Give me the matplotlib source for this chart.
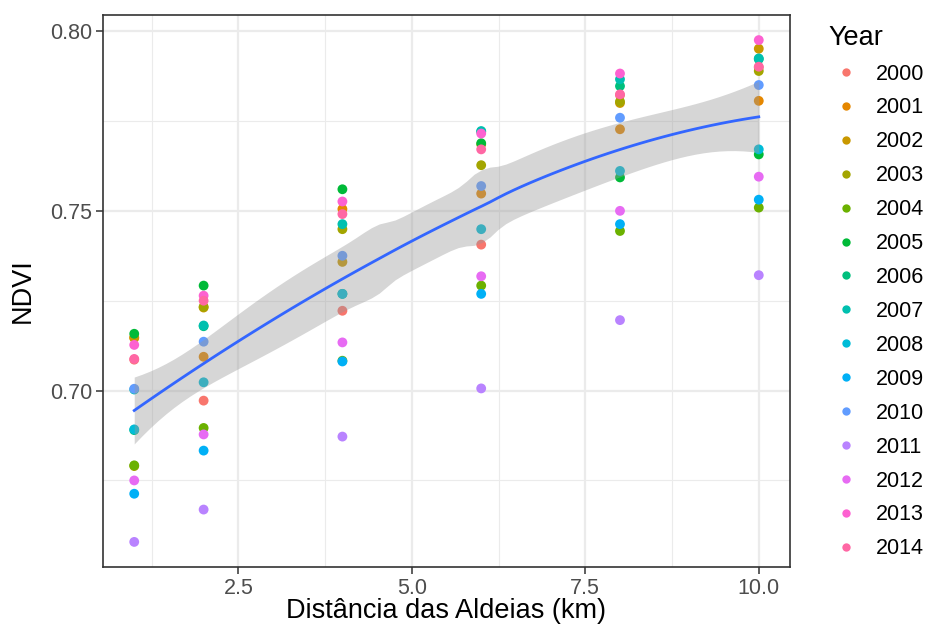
"""NDVI vs distance from villages, ggplot-like scatter with loess smooth."""

import matplotlib

matplotlib.use("Agg")

import matplotlib.pyplot as plt
import numpy as np
from matplotlib.lines import Line2D

YEARS = list(range(2000, 2015))
DISTANCES = [1, 2, 4, 6, 8, 10]

# NDVI by year (2000..2014) for each distance (km)
NDVI_1KM = [0.7086, 0.7148, 0.7146, 0.6790, 0.6792, 0.7158, 0.6890, 0.7003,
            0.6892, 0.6713, 0.7005, 0.6579, 0.6750, 0.7127, 0.7088]
NDVI_2KM = [0.6972, 0.7094, 0.7231, 0.7233, 0.6896, 0.7292, 0.7179, 0.7181,
            0.7023, 0.6833, 0.7136, 0.6669, 0.6878, 0.7264, 0.7250]
NDVI_4KM = [0.7222, 0.7505, 0.7358, 0.7449, 0.7083, 0.7560, 0.7269, 0.7463,
            0.7269, 0.7081, 0.7375, 0.6872, 0.7134, 0.7526, 0.7491]
NDVI_6KM = [0.7406, 0.7548, 0.7685, 0.7627, 0.7292, 0.7688, 0.7720, 0.7722,
            0.7449, 0.7269, 0.7569, 0.7006, 0.7318, 0.7715, 0.7671]
NDVI_8KM = [0.7822, 0.7727, 0.7800, 0.7804, 0.7444, 0.7593, 0.7847, 0.7866,
            0.7611, 0.7463, 0.7759, 0.7196, 0.7500, 0.7882, 0.7824]
NDVI_10KM = [0.7899, 0.7806, 0.7951, 0.7889, 0.7509, 0.7657, 0.7922, 0.7924,
             0.7671, 0.7531, 0.7850, 0.7321, 0.7595, 0.7975, 0.7901]

NDVI = np.array([NDVI_1KM, NDVI_2KM, NDVI_4KM, NDVI_6KM, NDVI_8KM, NDVI_10KM])

X_TICKS = [2.5, 5.0, 7.5, 10.0]
Y_TICKS = [0.70, 0.75, 0.80]

GRID = "#EBEBEB"
BORDER = "#333333"
TICK_TEXT = "#4D4D4D"
SMOOTH = "#3366FF"


def hue_pal(n, h=(15, 375), c=100, l=65):
    """Approximate ggplot2's hue_pal via HCL (CIE LCh uv) -> sRGB."""
    hues = np.linspace(h[0], h[1], n + 1)[:-1] % 360
    cols = []
    xn, yn, zn = 95.047, 100.0, 108.883
    un = 4 * xn / (xn + 15 * yn + 3 * zn)
    vn = 9 * yn / (xn + 15 * yn + 3 * zn)
    for hh in hues:
        u = c * np.cos(np.radians(hh))
        v = c * np.sin(np.radians(hh))
        Y = yn * ((l + 16) / 116) ** 3 if l > 8 else yn * l * (3 / 29) ** 3
        up = u / (13 * l) + un
        vp = v / (13 * l) + vn
        X = Y * 9 * up / (4 * vp)
        Z = Y * (12 - 3 * up - 20 * vp) / (4 * vp)
        X, Y, Z = X / 100, Y / 100, Z / 100
        r = 3.2406 * X - 1.5372 * Y - 0.4986 * Z
        g = -0.9689 * X + 1.8758 * Y + 0.0415 * Z
        b = 0.0557 * X - 0.2040 * Y + 1.0570 * Z
        rgb = []
        for ch in (r, g, b):
            ch = 12.92 * ch if ch <= 0.0031308 else 1.055 * ch ** (1 / 2.4) - 0.055
            rgb.append(min(max(ch, 0), 1))
        cols.append(tuple(rgb))
    return cols


def loess_fit(x, y, xs, span=0.75):
    """Local quadratic loess with tricube weights; returns fit and 95% band."""
    n = len(x)
    q = int(np.floor(n * span))

    def weights_row(x0):
        d = np.abs(x - x0)
        dq = np.sort(d)[q - 1]
        w = np.clip(1 - (d / dq) ** 3, 0, None) ** 3
        X = np.column_stack([np.ones(n), x - x0, (x - x0) ** 2])
        XtW = X.T * w
        return np.linalg.solve(XtW @ X, XtW)[0]

    L = np.array([weights_row(x0) for x0 in x])
    M = np.eye(n) - L
    R = M.T @ M
    delta1 = np.trace(R)
    delta2 = np.trace(R @ R)
    s = np.sqrt(np.sum((M @ y) ** 2) / delta1)
    df = delta1 ** 2 / delta2
    z = 1.959964
    t = z + (z ** 3 + z) / (4 * df) + (5 * z ** 5 + 16 * z ** 3 + 3 * z) / (96 * df ** 2)

    Ls = np.array([weights_row(x0) for x0 in xs])
    fit = Ls @ y
    se = s * np.sqrt(np.sum(Ls ** 2, axis=1))
    return fit, fit - t * se, fit + t * se


colors = hue_pal(len(YEARS))
x_all = np.repeat(DISTANCES, len(YEARS)).astype(float)
y_all = NDVI.ravel()

fig = plt.figure(figsize=(9.33, 6.25), dpi=100)
ax = fig.add_axes([103 / 933, 1 - 567 / 625, 687 / 933, 552 / 625])

for j, year in enumerate(YEARS):
    ax.scatter(DISTANCES, NDVI[:, j], s=50, color=colors[j], edgecolors="none", zorder=3)

xs = np.linspace(min(DISTANCES), max(DISTANCES), 80)
fit, lo, hi = loess_fit(x_all, y_all, xs)
ax.fill_between(xs, lo, hi, color="#999999", alpha=0.4, linewidth=0, zorder=4)
ax.plot(xs, fit, color=SMOOTH, linewidth=2.0, zorder=5)

xr = max(DISTANCES) - min(DISTANCES)
ax.set_xlim(min(DISTANCES) - 0.05 * xr, max(DISTANCES) + 0.05 * xr)
yr = y_all.max() - y_all.min()
ax.set_ylim(y_all.min() - 0.05 * yr, y_all.max() + 0.05 * yr)

ax.set_xticks(X_TICKS)
ax.set_xticklabels([f"{v:.1f}" for v in X_TICKS])
ax.set_yticks(Y_TICKS)
ax.set_yticklabels([f"{v:.2f}" for v in Y_TICKS])
ax.set_xticks([1.25, 3.75, 6.25, 8.75], minor=True)
ax.set_yticks([0.675, 0.725, 0.775], minor=True)
ax.grid(which="major", color=GRID, linewidth=1.6, zorder=0)
ax.grid(which="minor", color=GRID, linewidth=0.8, zorder=0)
ax.set_axisbelow(True)
ax.tick_params(which="major", length=5, width=1.1, color=BORDER, labelcolor=TICK_TEXT,
               labelsize=15.5, pad=3)
ax.tick_params(which="minor", length=0)
for sp in ax.spines.values():
    sp.set_color(BORDER)
    sp.set_linewidth(1.2)

ax.set_xlabel("Distância das Aldeias (km)", fontsize=19.5, color="black", labelpad=-1)
ax.set_ylabel("NDVI", fontsize=19.5, color="black", labelpad=10)

handles = [Line2D([], [], linestyle="none", marker="o", markersize=6, markeredgewidth=0,
                  color=colors[j]) for j in range(len(YEARS))]
leg = fig.legend(handles, [str(y) for y in YEARS], title="Year", loc="upper left",
                 bbox_to_anchor=(820 / 933, 1 - 16 / 625), frameon=False, fontsize=15.5,
                 title_fontsize=19.5, labelspacing=0.6, handletextpad=0.6,
                 handlelength=1.6, alignment="left", borderaxespad=0)

for text in [ax.xaxis.label, ax.yaxis.label] + ax.get_xticklabels() + ax.get_yticklabels():
    text.set_family("Liberation Sans")
for text in leg.get_texts() + [leg.get_title()]:
    text.set_family("Liberation Sans")

fig.savefig("out.png", dpi=100, facecolor="white")
